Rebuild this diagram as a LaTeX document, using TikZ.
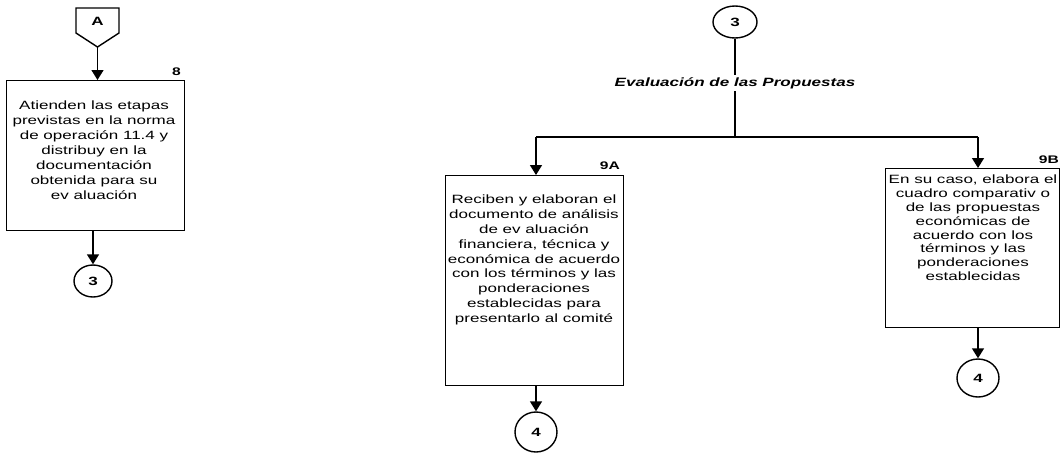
\documentclass[tikz,border=0pt]{standalone}
\usepackage{fontspec}
\setmainfont{Liberation Sans}
\newfontfamily\wf[FakeStretch=1.42]{Liberation Sans}
\usetikzlibrary{arrows.meta,shapes.geometric}
\begin{document}
\begin{tikzpicture}[x=1pt,y=-1pt,
 boxst/.style={draw, line width=1.4pt, rectangle, inner sep=0pt},
 txt/.style={font=\wf\fontsize{12}{15}\selectfont, align=center, inner sep=0pt},
 conn/.style={draw, ellipse, line width=1.4pt, minimum width=42pt, minimum height=36pt, inner sep=0pt, font=\wf\bfseries\fontsize{12}{14}\selectfont},
 num/.style={font=\wf\bfseries\fontsize{11}{13}\selectfont, inner sep=0pt},
 flow/.style={line width=1.4pt, -{Triangle[length=10pt,width=12pt]}},
 plain/.style={line width=1.4pt}]
\useasboundingbox (0,0) rectangle (1061,456);

% ---- left column ----
\draw[plain, line join=miter] (76,8) -- (119,8) -- (119,33) -- (97.5,47) -- (76,33) -- cycle;
\node[font=\wf\bfseries\fontsize{12}{14}\selectfont, inner sep=0pt] (lA) at (97.5,21) {A};
\coordinate (Aout) at (97.5,47);

\node[boxst, minimum width=178pt, minimum height=150pt, anchor=north west] (b8) at (6,80) {};
\node[num, anchor=south east] (n8) at (181,76) {8};
\node[txt] (t8) at (94,150) {Atienden las etapas\\previstas en la norma\\de operación 11.4 y\\distribuy en la\\documentación\\obtenida para su\\ev aluación};

\node[conn, minimum width=38pt, minimum height=32pt] (c3l) at (93,281) {3};

\draw[flow] (Aout) -- (b8.north -| Aout);
\draw[flow] (b8.south -| c3l.north) -- (c3l.north);

% ---- right part ----
\node[conn, minimum width=44pt, minimum height=32pt] (c3r) at (735,22) {3};
\coordinate (hy) at (0,137);
\coordinate (jl) at (536,137);
\coordinate (jr) at (978,137);
\draw[plain] (c3r.south) -- (c3r.south |- hy);
\draw[plain] (jl) -- (jr);
\node[font=\wf\bfseries\itshape\fontsize{12}{14}\selectfont, fill=white, inner sep=2pt] (title) at (735,83) {Evaluación de las Propuestas};

\node[boxst, minimum width=178pt, minimum height=210pt, anchor=north west] (b9a) at (445,175) {};
\node[num, anchor=south east] (n9a) at (620,170) {9A};
\node[txt, font=\wf\fontsize{12}{14.8}\selectfont] (t9a) at (534,260) {Reciben y elaboran el\\documento de análisis\\de ev aluación\\financiera, técnica y\\económica de acuerdo\\con los términos y las\\ponderaciones\\establecidas para\\presentarlo al comité};

\node[boxst, minimum width=174pt, minimum height=159pt, anchor=north west] (b9b) at (885,168) {};
\node[num, anchor=south east] (n9b) at (1059,164) {9B};
\node[txt, font=\wf\fontsize{12}{13.8}\selectfont] (t9b) at (973,228) {En su caso, elabora el\\cuadro comparativ o\\de las propuestas\\económicas de\\acuerdo con los\\términos y las\\ponderaciones\\establecidas};

\node[conn, minimum height=40pt] (c4a) at (536,432) {4};
\node[conn, minimum height=38pt] (c4b) at (978,378) {4};

\draw[flow] (jl) -- (b9a.north -| jl);
\draw[flow] (jr) -- (b9b.north -| jr);
\draw[flow] (b9a.south -| c4a.north) -- (c4a.north);
\draw[flow] (b9b.south -| c4b.north) -- (c4b.north);
\end{tikzpicture}
\end{document}
